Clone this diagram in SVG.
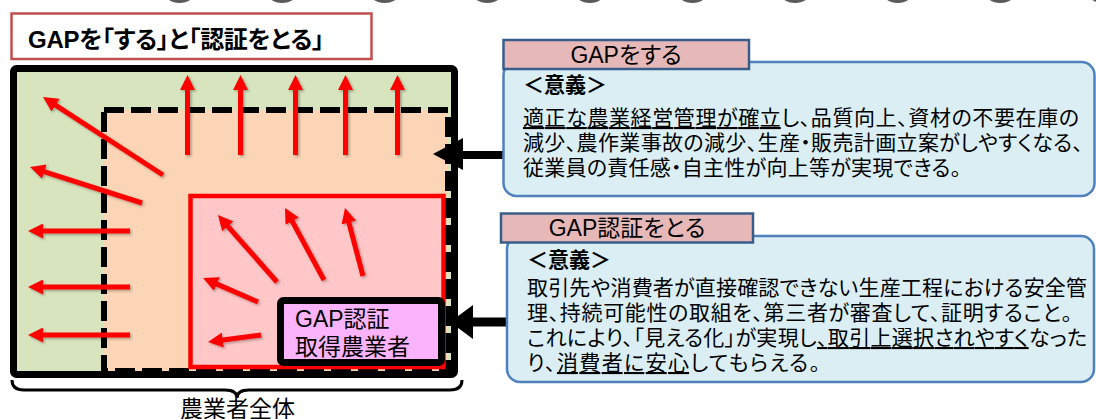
<svg xmlns="http://www.w3.org/2000/svg" width="1096" height="419" viewBox="0 0 1096 419">
<defs>
<style>
text { font-family: "Liberation Sans", "Noto Sans CJK JP", sans-serif; font-feature-settings: "palt"; fill: #000; }
.title { font-size: 24px; font-weight: bold; }
.body { font-size: 21px; }
.hd { font-size: 21px; font-weight: bold; }
.lbl { font-size: 23px; text-anchor: middle; }
.cert { font-size: 23px; }
.u { text-decoration: underline; }
.red { stroke: #ff0000; stroke-width: 5; fill: none; marker-end: url(#rh); }
.tab { fill: #e6b9b8; stroke: #385d8a; stroke-width: 2.5; }
.card { fill: #dbeef4; stroke: #4f81bd; stroke-width: 2.5; }
.oval { fill: #5a5a5a; }
</style>
<marker id="rh" viewBox="0 0 10 10" refX="4" refY="5" markerWidth="3" markerHeight="3" orient="auto">
<path d="M0,0 L10,5 L0,10 z" fill="#ff0000"/>
</marker>
<filter id="sh" x="-20%" y="-20%" width="140%" height="140%">
<feDropShadow dx="1.5" dy="1.5" stdDeviation="1" flood-color="#000" flood-opacity="0.3"/>
</filter>
</defs>

<rect width="1096" height="419" fill="#ffffff"/>

<g id="top-ovals">
<ellipse class="oval" cx="179.5" cy="-7" rx="15" ry="10"/>
<ellipse class="oval" cx="282.1" cy="-7" rx="15" ry="10"/>
<ellipse class="oval" cx="384.7" cy="-7" rx="15" ry="10"/>
<ellipse class="oval" cx="487.3" cy="-7" rx="15" ry="10"/>
<ellipse class="oval" cx="589.9" cy="-7" rx="15" ry="10"/>
<ellipse class="oval" cx="692.5" cy="-7" rx="15" ry="10"/>
<ellipse class="oval" cx="795.1" cy="-7" rx="15" ry="10"/>
<ellipse class="oval" cx="897.7" cy="-7" rx="15" ry="10"/>
<ellipse class="oval" cx="1000.3" cy="-7" rx="15" ry="10"/>
<ellipse class="oval" cx="1102.9" cy="-7" rx="15" ry="10"/>
</g>

<g id="title">
<rect x="11.5" y="13.5" width="360" height="45.5" fill="#ffffff" stroke="#c0504d" stroke-width="2.5"/>
<text class="title" x="28" y="48" textLength="296">GAPを「する」と「認証をとる」</text>
</g>

<g id="all-farmers">
<rect x="13.5" y="68.5" width="441" height="306" rx="3" fill="#d7e4bd" stroke="#000" stroke-width="7"/>
</g>

<g id="gap-practice-area">
<rect x="104" y="110" width="344" height="261" fill="#fbd5b5" stroke="#000" stroke-width="6" stroke-dasharray="20 7"/>
</g>

<g id="certified-area">
<rect x="190.5" y="196" width="253" height="171" fill="#ffc7c7" stroke="#ff0000" stroke-width="4.5"/>
</g>

<g id="connectors">
<g id="red-arrows" filter="url(#sh)">
<line class="red" x1="187.5" y1="155" x2="187.5" y2="84"/>
<line class="red" x1="240.5" y1="155" x2="240.5" y2="84"/>
<line class="red" x1="295.5" y1="155" x2="295.5" y2="84"/>
<line class="red" x1="345.5" y1="155" x2="345.5" y2="84"/>
<line class="red" x1="397.5" y1="155" x2="397.5" y2="84"/>
<line class="red" x1="163" y1="175" x2="50.5" y2="101.9"/>
<line class="red" x1="142" y1="203" x2="38.6" y2="169.8"/>
<line class="red" x1="130" y1="231" x2="37" y2="231"/>
<line class="red" x1="130" y1="287" x2="37" y2="287"/>
<line class="red" x1="130" y1="335" x2="37" y2="335"/>
<line class="red" x1="277" y1="282" x2="223.9" y2="221.8"/>
<line class="red" x1="324" y1="280" x2="289.3" y2="215.9"/>
<line class="red" x1="363" y1="276" x2="347.3" y2="216.7"/>
<line class="red" x1="258" y1="302" x2="211.3" y2="281.6"/>
<line class="red" x1="261" y1="335" x2="216.9" y2="340.8"/>
</g>
<path id="arrow-practice" d="M433,154 L463,138 L463,151 L505,151 L505,159 L463,159 L463,170 Z" fill="#000"/>
<path id="arrow-cert" d="M450,322 L473,305 L473,317.5 L509,317.5 L509,326.5 L473,326.5 L473,339 Z" fill="#000"/>
<path id="brace" d="M12,380 Q12,390 24,390 L225,390 Q237,390 237,398 Q237,390 249,390 L450,390 Q462,390 462,380" fill="none" stroke="#000" stroke-width="3"/>
</g>

<g id="certified-label">
<rect x="280.5" y="300.5" width="161" height="62" rx="3" fill="#fbb4fb" stroke="#000" stroke-width="7"/>
<text class="cert" x="295" y="327">GAP認証</text>
<text class="cert" x="295" y="355">取得農業者</text>
</g>

<g id="all-farmers-label">
<text x="237.5" y="417" font-size="23" text-anchor="middle">農業者全体</text>
</g>

<g id="box-practice">
<rect class="card" x="503.5" y="62" width="591" height="134" rx="13"/>
<rect class="tab" x="503.5" y="40" width="245.5" height="29"/>
<text class="lbl" x="626" y="63">GAPをする</text>
<text class="hd" x="523" y="92">＜意義＞</text>
<text class="body" x="523" y="125" textLength="556"><tspan class="u">適正な農業経営管理が確立</tspan>し、品質向上、資材の不要在庫の</text>
<text class="body" x="523" y="150" textLength="560">減少、農作業事故の減少、生産・販売計画立案がしやすくなる、</text>
<text class="body" x="523" y="175" textLength="438">従業員の責任感・自主性が向上等が実現できる。</text>
</g>

<g id="box-certification">
<rect class="card" x="507" y="236" width="587" height="146" rx="13"/>
<rect class="tab" x="501" y="213.5" width="252" height="29"/>
<text class="lbl" x="627" y="236">GAP認証をとる</text>
<text class="hd" x="527" y="267">＜意義＞</text>
<text class="body" x="527" y="295" textLength="560">取引先や消費者が直接確認できない生産工程における安全管</text>
<text class="body" x="527" y="320" textLength="545">理、持続可能性の取組を、第三者が審査して、証明すること。</text>
<text class="body" x="527" y="345" textLength="560">これにより、「見える化」が実現し<tspan class="u">、取引上選択されやすく</tspan>なった</text>
<text class="body" x="527" y="370" textLength="293">り、<tspan class="u">消費者に安心</tspan>してもらえる。</text>
</g>
</svg>
